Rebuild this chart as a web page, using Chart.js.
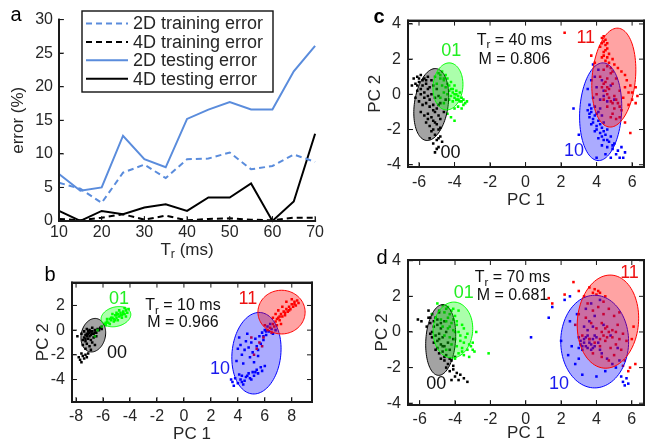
<!DOCTYPE html>
<html>
<head>
<meta charset="utf-8">
<script src="https://cdn.jsdelivr.net/npm/chart.js@4.4.1/dist/chart.umd.min.js"></script>
<style>
  body { margin: 0; background: #fff; width: 648px; height: 446px; overflow: hidden; position: relative; }
  canvas { position: absolute; }
  #frames { left: 0; top: 0; z-index: 5; pointer-events: none; }
  .frame { position: absolute; z-index: 6; pointer-events: none; box-sizing: border-box; border-color: #1a1a1a; border-style: solid; border-width: 0; }
</style>
</head>
<body>
<canvas id="pa" width="330" height="262" style="left:0;top:0"></canvas>
<canvas id="pb" width="330" height="184" style="left:0;top:262px"></canvas>
<canvas id="pc" width="318" height="220" style="left:330px;top:0"></canvas>
<canvas id="pd" width="318" height="226" style="left:330px;top:220px"></canvas>
<canvas id="frames" width="648" height="446"></canvas>
<script>
// ---------- Panel a data ----------
const trMs = [10, 15, 20, 25, 30, 35, 40, 45, 50, 55, 60, 65, 70];
const train2D = [5.7, 4.8, 2.7, 7.2, 8.4, 6.4, 9.2, 9.3, 10.2, 7.7, 8.2, 9.9, 8.8];
const train4D = [0.3, 0.1, 0.5, 1.0, 0.2, 0.8, 0.1, 0.3, 0.4, 0.2, 0.1, 0.5, 0.5];
const test2D = [7.0, 4.5, 5.0, 12.7, 9.2, 8.0, 15.2, 16.6, 17.7, 16.6, 16.6, 22.3, 26.1];
const test4D = [1.5, 0.0, 1.5, 1.0, 2.0, 2.5, 1.5, 3.5, 3.5, 5.6, 0.0, 2.9, 13.0];
const errTicks = [0, 5, 10, 15, 20, 25, 30];
const trTicks = [10, 20, 30, 40, 50, 60, 70];

// ---------- PCA groups (order: 00, 01, 10, 11) ----------
const groupNames = ["00", "01", "10", "11"];

// panel b, Tr = 10 ms
const b00 = [[-7.4,-0.6],[-7.3,-0.4],[-7.2,-0.5],[-7.1,-0.3],[-7.0,-0.2],[-6.9,-0.4],[-6.8,-0.1],[-6.7,-0.3],[-6.6,0.0],[-6.5,-0.2],[-6.4,0.1],[-6.3,0.0],[-6.2,0.2],[-6.1,0.1],[-7.5,-0.8],[-7.3,-0.9],[-7.1,-0.7],[-6.9,-0.8],[-6.7,-0.6],[-7.6,-0.3],[-7.4,-0.1],[-7.0,0.0],[-6.8,-1.0],[-7.2,-1.1],[-7.0,-1.3],[-7.5,-1.2],[-7.3,-1.5],[-6.6,-1.2],[-6.9,-1.6],[-7.6,-1.9],[-7.5,-2.1],[-7.3,-2.0],[-7.7,-2.4],[-7.4,-2.3],[-7.6,-2.6],[-7.2,-2.2],[-7.8,-2.2],[-7.1,-1.9],[-7.9,-0.5],[-6.5,-0.5],[-6.8,0.2],[-7.2,0.1],[-7.2,-0.3],[-7.0,-0.5],[-6.8,-0.3],[-6.6,-0.2],[-7.3,-0.7],[-6.9,-0.1],[-7.1,-0.1]];
const b01 = [[-6.1,0.3],[-5.9,0.5],[-5.8,0.4],[-5.7,0.7],[-5.6,0.6],[-5.5,0.9],[-5.4,0.8],[-5.3,1.0],[-5.2,0.9],[-5.1,1.2],[-5.0,1.0],[-4.9,1.3],[-4.8,1.1],[-4.7,1.4],[-4.6,1.2],[-4.5,1.5],[-4.4,1.3],[-4.3,1.6],[-4.2,1.4],[-4.1,1.7],[-5.5,0.5],[-5.2,0.7],[-4.9,0.8],[-4.6,1.0],[-5.0,1.4],[-4.4,1.8],[-5.7,0.9],[-5.3,1.3],[-4.8,1.6],[-4.3,1.1],[-6.6,-0.5],[-6.4,0.0],[-5.4,1.0],[-5.0,1.2],[-4.7,1.2],[-4.5,1.3],[-5.8,0.6],[-5.1,0.8]];
const b10 = [[4.0,-1.5],[4.2,-1.2],[4.3,-2.0],[4.5,-1.6],[4.6,-0.9],[4.8,-1.4],[4.9,-2.2],[5.0,-1.0],[5.1,-1.8],[5.3,-0.7],[5.4,-1.3],[5.5,-2.1],[5.6,-0.5],[5.7,-1.1],[5.8,-0.2],[5.9,-0.8],[6.0,0.0],[6.1,-0.4],[6.2,0.3],[6.3,-0.1],[6.4,0.5],[6.5,0.1],[6.6,-0.3],[3.9,-2.5],[4.4,-2.7],[5.2,-2.6],[4.1,-0.6],[4.7,-0.3],[6.8,0.0],[3.6,-4.2],[3.7,-4.5],[3.8,-3.9],[4.0,-4.3],[4.2,-4.0],[4.3,-3.7],[4.5,-4.1],[4.6,-3.8],[4.8,-3.5],[4.9,-3.9],[5.1,-3.4],[5.2,-3.7],[5.4,-3.2],[5.5,-3.5],[5.7,-3.0],[5.8,-3.3],[6.0,-2.9],[4.4,-4.4],[4.1,-3.6],[5.0,-4.0],[3.5,-4.0],[5.9,-0.5],[6.1,-0.1],[5.5,-1.6],[4.7,-3.7],[5.3,-3.4],[4.3,-4.2]];
const b11 = [[6.4,0.2],[6.6,0.5],[6.8,0.7],[6.9,0.4],[7.0,1.0],[7.1,0.8],[7.2,1.3],[7.3,1.1],[7.4,1.5],[7.5,1.2],[7.6,1.7],[7.7,1.5],[7.8,1.9],[7.9,1.7],[8.0,2.1],[8.1,1.9],[8.2,2.3],[8.3,2.0],[8.4,2.4],[8.5,2.2],[7.0,1.6],[6.8,1.3],[7.3,1.9],[6.6,1.0],[7.6,2.3],[8.0,2.5],[6.2,0.0],[6.5,-0.2],[5.9,-0.6],[5.6,-1.0],[5.4,-1.5],[5.8,-1.3],[5.2,-2.0],[5.0,-0.6],[6.0,0.4],[7.2,0.5],[7.8,1.6],[8.2,2.1],[7.5,1.4],[7.1,1.1],[6.9,0.9],[6.7,0.3]];
const bEllCx = [-6.72, -5.04, 5.38, 7.24];
const bEllCy = [-0.41, 1.09, -1.87, 1.46];
const bEllRx = [0.9, 1.13, 1.81, 1.75];
const bEllRy = [1.37, 0.78, 3.31, 1.77];
const bEllAng = [-10, 18, -5, 0];

// panel c, Tr = 40 ms
const c00 = [[-6.3,0.9],[-6.1,1.0],[-5.9,1.1],[-5.7,0.9],[-5.5,1.0],[-5.3,0.8],[-6.2,0.6],[-6.0,0.7],[-5.8,0.5],[-5.6,0.6],[-5.4,0.4],[-5.2,0.5],[-5.0,0.3],[-6.1,0.2],[-5.9,0.0],[-5.7,0.1],[-5.5,-0.1],[-5.3,0.0],[-5.1,-0.2],[-4.9,-0.1],[-6.0,-0.4],[-5.8,-0.6],[-5.6,-0.5],[-5.4,-0.7],[-5.2,-0.6],[-5.0,-0.8],[-4.8,-0.5],[-5.9,-1.0],[-5.7,-1.2],[-5.5,-1.1],[-5.3,-1.3],[-5.1,-1.0],[-4.9,-1.2],[-5.6,-1.6],[-5.4,-1.8],[-5.2,-1.5],[-5.0,-1.7],[-4.8,-1.4],[-5.3,-2.1],[-5.1,-2.3],[-4.9,-2.0],[-5.0,-2.6],[-4.8,-2.4],[-5.2,-2.8],[-4.7,-2.7],[-4.9,-3.0],[-5.4,-2.5],[-6.4,0.5],[-6.2,-0.2],[-4.6,-1.0],[-4.5,-0.3],[-5.1,-3.3],[-6.0,0.9],[-5.8,0.8],[-5.6,0.8],[-6.1,0.5],[-5.9,0.3],[-5.5,0.3],[-5.7,-0.2],[-5.4,-0.3],[-5.2,-0.9],[-4.9,-0.6],[-5.5,-1.4],[-5.1,-1.6],[-4.8,-1.9],[-5.2,-2.0],[-4.9,-2.5],[-5.0,-3.1]];
const c01 = [[-4.9,1.2],[-4.7,1.3],[-4.5,1.1],[-4.8,0.9],[-4.6,0.8],[-4.4,0.9],[-4.2,0.7],[-4.7,0.5],[-4.5,0.4],[-4.3,0.5],[-4.1,0.3],[-3.9,0.2],[-4.6,0.1],[-4.4,0.0],[-4.2,-0.1],[-4.0,0.0],[-3.8,-0.1],[-3.7,0.1],[-4.3,-0.3],[-4.1,-0.4],[-3.9,-0.3],[-3.7,-0.4],[-3.6,-0.2],[-3.5,-0.6],[-3.4,-0.5],[-3.8,-0.7],[-4.0,-0.8],[-4.6,-0.5],[-4.8,-0.2],[-5.0,0.6],[-5.1,1.0],[-4.0,0.5],[-3.6,-0.8],[-4.2,-1.3],[-4.0,-1.5],[-4.4,-1.1],[-3.3,-0.4],[-4.3,0.2],[-4.1,0.1],[-3.9,0.0],[-4.0,-0.2],[-3.8,-0.3],[-4.2,0.3],[-4.4,0.6],[-4.6,0.9],[-4.8,1.1],[-3.6,-0.4],[-3.5,-0.3]];
const c10 = [[3.8,1.7],[4.1,1.4],[3.9,1.0],[4.3,0.8],[4.0,0.4],[4.4,0.2],[3.8,-0.2],[4.2,-0.3],[4.6,-0.4],[3.6,-0.6],[3.9,-0.7],[4.2,-0.8],[3.5,-0.9],[3.7,-1.0],[4.0,-1.1],[4.3,-1.2],[3.6,-1.3],[3.8,-1.4],[4.1,-1.5],[4.4,-1.6],[3.7,-1.7],[4.0,-1.8],[4.3,-1.9],[4.6,-2.0],[3.9,-2.1],[4.2,-2.2],[4.5,-2.3],[4.8,-2.4],[4.1,-2.5],[4.4,-2.6],[4.7,-2.7],[5.0,-2.8],[4.3,-2.9],[4.6,-3.0],[4.9,-3.1],[5.2,-3.2],[4.5,-3.4],[4.0,-3.6],[5.4,-3.0],[5.6,-3.3],[5.3,-3.6],[2.7,-0.8],[3.0,-2.3],[3.5,0.3],[4.8,0.5],[5.0,-0.3],[3.7,-0.8],[3.9,-1.2],[4.1,-1.0],[3.8,-1.6],[4.2,-1.7],[4.0,-2.0],[4.4,-2.1],[3.6,-1.1],[4.3,-2.4],[4.6,-2.6],[4.9,-2.9],[5.1,-3.4],[4.8,-3.6],[5.5,-3.6],[4.4,-0.1],[3.7,0.8]];
const c11 = [[4.3,3.2],[4.4,3.0],[4.5,2.8],[4.2,2.7],[4.6,2.6],[4.4,2.4],[4.7,2.3],[4.3,2.1],[4.9,2.0],[4.5,1.9],[5.0,1.7],[4.6,1.6],[5.2,1.5],[4.4,1.4],[5.4,1.3],[4.8,1.2],[5.6,1.1],[4.2,1.0],[5.1,0.9],[5.7,0.8],[4.5,0.7],[4.9,0.6],[5.9,0.5],[4.3,0.4],[4.7,0.3],[5.3,0.2],[6.0,0.1],[4.6,0.0],[5.0,-0.1],[5.5,-0.2],[4.4,-0.3],[4.8,-0.4],[5.2,-0.5],[5.8,-0.6],[4.6,-0.7],[5.0,-0.8],[5.4,-0.9],[4.9,-1.1],[5.3,-1.3],[5.6,-1.6],[5.1,-1.4],[6.2,0.4],[6.3,-0.1],[5.9,-2.2],[3.9,1.8],[3.7,2.2],[2.2,3.5],[4.0,0.0],[4.4,3.3],[4.5,3.1],[4.3,2.9],[4.6,2.9],[4.5,2.5],[4.4,2.2],[4.6,2.1],[4.7,1.8],[4.8,1.5],[4.9,1.3],[4.6,0.9],[4.4,0.6],[4.6,0.4],[4.5,0.2],[4.7,-0.2],[4.9,-0.5],[5.1,-0.3],[5.3,-0.7],[4.8,-1.3],[5.6,0.4],[5.8,0.1],[6.0,-0.3],[6.2,-0.5]];
const cEllCx = [-5.31, -4.37, 4.23, 4.97];
const cEllCy = [-0.58, 0.45, -0.99, 0.95];
const cEllRx = [0.95, 0.84, 1.18, 1.22];
const cEllRy = [2.06, 1.34, 2.78, 2.82];
const cEllAng = [-8, -5, -3, -5];

// panel d, Tr = 70 ms
const d00 = [[-6.1,0.7],[-5.9,0.6],[-5.5,1.2],[-5.3,1.0],[-5.1,0.8],[-4.9,1.1],[-5.4,0.5],[-5.2,0.3],[-5.0,0.4],[-4.8,0.2],[-4.6,0.6],[-5.3,0.0],[-5.1,-0.2],[-4.9,-0.1],[-4.7,-0.3],[-4.5,0.0],[-5.2,-0.6],[-5.0,-0.5],[-4.8,-0.7],[-4.6,-0.8],[-4.4,-0.6],[-5.1,-1.0],[-4.9,-1.2],[-4.7,-1.1],[-4.5,-1.3],[-4.3,-1.0],[-4.8,-1.5],[-4.6,-1.6],[-4.4,-1.8],[-4.2,-1.6],[-4.5,-2.0],[-4.3,-2.2],[-4.1,-2.1],[-3.9,-2.3],[-4.0,-2.5],[-3.7,-2.4],[-3.8,-2.7],[-3.5,-2.6],[-3.3,-2.8],[-4.2,-2.7],[-5.5,0.8],[-5.6,0.3],[-4.0,-1.4],[-4.1,-0.4],[-5.4,0.8],[-5.2,0.6],[-5.0,0.7],[-5.3,-0.3],[-5.0,-0.9],[-4.7,-0.8],[-4.9,-0.4],[-4.6,-1.4],[-4.3,-1.5],[-4.1,-1.9],[-4.8,0.5],[-5.4,-0.1]];
const d01 = [[-5.0,1.6],[-4.7,1.5],[-4.4,1.4],[-4.1,1.3],[-4.9,1.2],[-4.6,1.1],[-4.3,1.0],[-4.0,0.9],[-3.8,1.2],[-5.1,0.8],[-4.8,0.7],[-4.5,0.6],[-4.2,0.5],[-3.9,0.6],[-3.6,0.4],[-4.7,0.3],[-4.4,0.2],[-4.1,0.1],[-3.8,0.0],[-3.5,0.2],[-4.6,-0.2],[-4.3,-0.3],[-4.0,-0.4],[-3.7,-0.5],[-3.4,-0.3],[-4.2,-0.7],[-3.9,-0.8],[-3.6,-0.9],[-3.3,-1.0],[-3.1,-0.8],[-3.8,-1.2],[-3.5,-1.3],[-3.2,-1.4],[-2.9,-1.1],[-4.0,-1.5],[-2.8,0.0],[-3.0,-0.6],[-2.1,-1.2],[-5.3,1.0],[-4.5,-1.0],[-3.3,-0.1],[-4.5,1.3],[-4.2,1.2],[-4.4,0.8],[-4.1,0.7],[-3.9,0.4],[-4.3,0.3],[-4.0,0.0],[-3.7,-0.2],[-3.5,-0.6],[-3.2,-0.7],[-3.0,-1.0],[-3.6,-1.1]];
const d10 = [[0.3,-0.3],[1.3,0.8],[1.5,1.4],[2.0,-0.5],[2.2,1.8],[2.5,0.6],[2.6,-0.8],[2.8,-1.8],[3.0,-0.3],[3.1,-0.7],[3.2,-1.0],[3.3,-0.4],[3.4,-0.8],[3.5,-0.2],[3.6,-0.6],[3.7,-1.0],[3.8,-0.4],[3.9,-0.8],[4.0,-0.3],[3.3,0.3],[3.6,0.6],[3.9,0.9],[3.4,1.3],[3.7,1.6],[4.2,1.8],[2.9,1.0],[4.3,-1.2],[4.6,-1.5],[4.9,-1.8],[5.1,-2.0],[5.3,-1.6],[4.5,-2.2],[4.0,-2.5],[3.2,-2.4],[5.4,-2.5],[5.5,-2.8],[5.7,-2.6],[5.8,-2.9],[5.6,-3.0],[4.8,-0.2],[4.4,0.4],[5.2,-0.9],[2.4,-1.3],[3.0,-1.5],[2.5,2.0],[3.1,-0.5],[3.3,-0.6],[3.5,-0.9],[3.7,-0.7],[3.4,-0.3],[3.6,-0.4],[3.8,-0.9],[3.2,-0.8],[4.1,-0.6],[3.9,-0.2],[3.0,-0.9],[4.2,-1.0],[3.5,0.1],[3.8,0.3]];
const d11 = [[1.3,1.9],[1.5,1.6],[2.2,2.1],[2.7,2.8],[3.0,2.3],[3.3,2.0],[3.6,2.5],[3.9,2.4],[4.2,2.2],[4.5,2.0],[3.5,1.6],[3.8,1.2],[4.1,1.4],[4.4,1.0],[4.7,1.3],[5.0,0.9],[3.4,0.8],[3.7,0.5],[4.0,0.2],[4.3,0.0],[4.6,0.3],[4.9,0.1],[5.2,0.4],[5.5,-0.1],[3.2,-0.2],[3.6,-0.4],[3.9,-0.6],[4.2,-0.8],[4.5,-0.5],[4.8,-0.9],[5.1,-0.7],[5.4,-1.0],[5.7,-0.5],[6.0,-0.4],[3.8,-1.2],[4.3,-1.4],[4.7,-1.6],[5.0,-1.3],[5.6,-1.6],[5.9,-2.0],[6.2,-1.8],[5.8,-2.2],[3.0,1.0],[2.8,0.4],[4.4,1.7],[5.3,1.1],[6.1,0.3],[5.5,-1.9],[4.3,0.5],[4.5,0.2],[4.7,0.0],[4.4,-0.2],[4.9,-0.3],[5.1,0.0],[4.1,2.3],[4.0,2.1],[3.8,2.2],[4.6,-0.3],[5.3,-0.4],[4.2,-0.4]];
const dEllCx = [-4.81, -4.12, 3.9, 4.65];
const dEllCy = [-0.45, 0.11, -0.54, 0.58];
const dEllRx = [0.84, 1.12, 1.92, 1.73];
const dEllRy = [1.99, 1.57, 2.6, 2.62];
const dEllAng = [-4, -4, 0, -5];

const pcTicks4 = [-4, -2, 0, 2, 4];
const pcTicksB = [-4, -2, 0, 2];
const pc1TicksB = [-8, -6, -4, -2, 0, 2, 4, 6, 8];
const pc1Ticks = [-6, -4, -2, 0, 2, 4, 6];

// ---------- Helpers ----------
const INK = "#262626";
const AXIS = "#1a1a1a";
const FAM = '"Liberation Sans", Arial, Helvetica, sans-serif';
const groupColors = ["#000000", "#00ff00", "#0000ff", "#ff0000"];
const groupFills = ["rgba(0,0,0,0.36)", "rgba(0,255,0,0.33)", "rgba(0,0,255,0.33)", "rgba(255,0,0,0.36)"];
const groupText = ["#111111", "#22ee22", "#1a1aee", "#ee1111"];
const font = (size, weight) => `${weight || "normal"} ${size}px ${FAM}`;

// draw text where parts marked true are subscripts
function richText(ctx, segs, x, y, size, color, align) {
  ctx.save();
  ctx.fillStyle = color;
  ctx.textBaseline = "middle";
  ctx.textAlign = "left";
  let w = 0;
  segs.forEach(([t, sub]) => { ctx.font = font(sub ? size * 0.72 : size); w += ctx.measureText(t).width; });
  let cx = align === "center" ? x - w / 2 : x;
  segs.forEach(([t, sub]) => {
    ctx.font = font(sub ? size * 0.72 : size);
    ctx.fillText(t, cx, sub ? y + size * 0.3 : y);
    cx += ctx.measureText(t).width;
  });
  ctx.restore();
}

function vText(ctx, text, x, y, size) {
  ctx.save();
  ctx.translate(x, y);
  ctx.rotate(-Math.PI / 2);
  ctx.font = font(size);
  ctx.fillStyle = INK;
  ctx.textAlign = "center";
  ctx.textBaseline = "middle";
  ctx.fillText(text, 0, 0);
  ctx.restore();
}

function plainText(ctx, text, x, y, size, color, weight) {
  ctx.save();
  ctx.font = font(size, weight);
  ctx.fillStyle = color;
  ctx.textAlign = "center";
  ctx.textBaseline = "middle";
  ctx.fillText(text, x, y);
  ctx.restore();
}

const setTicks = (vals) => (s) => { s.ticks = vals.map((v) => ({ value: v })); };

// native axis styling: solid border, short ticks pointing into the plot
const axisGrid = { display: true, drawOnChartArea: false, drawTicks: true, tickLength: -4, color: AXIS, tickColor: AXIS, tickWidth: 1 };
const axisBorder = { display: true, color: AXIS, width: 2 };

// ---------- Panel a ----------
const blue = "#5a8cdc";
const lineSets = [
  { label: "2D training error", ys: train2D, color: blue, dash: [6, 4] },
  { label: "4D training error", ys: train4D, color: "#000000", dash: [6, 4] },
  { label: "2D testing error", ys: test2D, color: blue, dash: [] },
  { label: "4D testing error", ys: test4D, color: "#000000", dash: [] },
];

const panelA = {
  id: "panelA",
  afterDraw(chart) {
    const ctx = chart.ctx;
    const a = chart.chartArea;
    ctx.save();
    ctx.fillStyle = "#fff";
    ctx.fillRect(82, 11, 191, 81);
    ctx.strokeStyle = "#111";
    ctx.lineWidth = 1.4;
    ctx.setLineDash([]);
    ctx.strokeRect(82, 11, 191, 81);
    chart.data.datasets.forEach((ds, i) => {
      const yy = 23.5 + i * 18.4;
      ctx.strokeStyle = ds.borderColor;
      ctx.lineWidth = ds.borderWidth;
      ctx.setLineDash(ds.borderDash);
      ctx.beginPath(); ctx.moveTo(86, yy); ctx.lineTo(128, yy); ctx.stroke();
      ctx.setLineDash([]);
      ctx.font = font(18);
      ctx.fillStyle = INK;
      ctx.textBaseline = "middle";
      ctx.textAlign = "left";
      ctx.fillText(ds.label, 133, yy + 1);
    });
    ctx.restore();
    vText(ctx, "error (%)", 18, (a.top + a.bottom) / 2, 17);
    richText(ctx, [["T", false], ["r", true], [" (ms)", false]], (a.left + a.right) / 2, 250, 17, INK, "center");
    plainText(ctx, "a", 16, 15, 20, "#000");
  },
};

const chartA = new Chart(document.getElementById("pa"), {
  type: "line",
  data: {
    datasets: lineSets.map((s) => ({
      label: s.label,
      data: trMs.map((t, i) => ({ x: t, y: s.ys[i] })),
      borderColor: s.color,
      borderDash: s.dash,
      borderWidth: 2,
      pointRadius: 0,
      fill: false,
      tension: 0,
      clip: false,
    })),
  },
  options: {
    responsive: false,
    animation: false,
    events: [],
    layout: { padding: { top: 15, right: 10, left: 0, bottom: 0 } },
    plugins: { legend: { display: false }, tooltip: { enabled: false } },
    scales: {
      x: {
        type: "linear", min: 10, max: 70,
        afterBuildTicks: setTicks(trTicks),
        afterFit: (s) => { s.height = 41; },
        grid: axisGrid, border: axisBorder,
        ticks: { color: INK, font: { family: FAM, size: 16 }, padding: 6 },
      },
      y: {
        min: 0, max: 30,
        afterBuildTicks: setTicks(errTicks),
        afterFit: (s) => { s.width = 59; },
        grid: axisGrid, border: axisBorder,
        ticks: { color: INK, font: { family: FAM, size: 16 }, padding: 10 },
      },
    },
  },
  plugins: [panelA],
});

// ---------- PCA panels ----------
function pcaPanel(cfg) {
  const overlay = {
    id: "overlay_" + cfg.el,
    afterDatasetsDraw(chart) {
      const ctx = chart.ctx;
      const a = chart.chartArea;
      const x = chart.scales.x, y = chart.scales.y;
      ctx.save();
      ctx.beginPath();
      ctx.rect(a.left, a.top, a.right - a.left, a.bottom - a.top);
      ctx.clip();
      cfg.ell.cx.forEach((cx, g) => {
        const cy = cfg.ell.cy[g], rx = cfg.ell.rx[g], ry = cfg.ell.ry[g];
        const th = (cfg.ell.ang[g] * Math.PI) / 180;
        ctx.beginPath();
        for (let k = 0; k <= 96; k++) {
          const t = (k / 96) * 2 * Math.PI;
          const ex = rx * Math.cos(t), ey = ry * Math.sin(t);
          const px = x.getPixelForValue(cx + ex * Math.cos(th) - ey * Math.sin(th));
          const py = y.getPixelForValue(cy + ex * Math.sin(th) + ey * Math.cos(th));
          if (k === 0) ctx.moveTo(px, py); else ctx.lineTo(px, py);
        }
        ctx.closePath();
        ctx.fillStyle = groupFills[g];
        ctx.fill();
        ctx.strokeStyle = groupColors[g];
        ctx.lineWidth = 1;
        ctx.stroke();
      });
      ctx.restore();
    },
    afterDraw(chart) {
      const ctx = chart.ctx;
      const a = chart.chartArea;
      const x = chart.scales.x, y = chart.scales.y;
      cfg.labelPos.forEach(([lx, ly], g) => {
        plainText(ctx, groupNames[g], x.getPixelForValue(lx), y.getPixelForValue(ly), 18, groupText[g]);
      });
      const [ax, ay1, ay2] = cfg.notePos;
      richText(ctx, [["T", false], ["r", true], [" = " + cfg.tr + " ms", false]], x.getPixelForValue(ax), y.getPixelForValue(ay1), 16, "#111", "center");
      plainText(ctx, "M = " + cfg.m, x.getPixelForValue(ax), y.getPixelForValue(ay2), 16, "#111");
      plainText(ctx, "PC 1", (a.left + a.right) / 2, cfg.xTitleY, 17, INK);
      vText(ctx, "PC 2", cfg.yTitleX, (a.top + a.bottom) / 2, 17);
      plainText(ctx, cfg.letter, cfg.letterPos[0], cfg.letterPos[1], 20, "#000", cfg.letterWeight);
    },
  };

  return new Chart(document.getElementById(cfg.el), {
    type: "scatter",
    data: {
      datasets: cfg.groups.map((pts, g) => ({
        label: groupNames[g],
        data: pts.map(([px, py]) => ({ x: px, y: py })),
        backgroundColor: groupColors[g],
        pointStyle: "rect",
        pointRadius: 1.8,
        borderWidth: 0,
        order: 4 - g,
      })),
    },
    options: {
      responsive: false,
      animation: false,
      events: [],
      layout: { padding: { top: cfg.top, right: cfg.right, left: 0, bottom: 0 } },
      plugins: { legend: { display: false }, tooltip: { enabled: false } },
      scales: {
        x: {
          type: "linear", min: cfg.xr[0], max: cfg.xr[1],
          afterBuildTicks: setTicks(cfg.xt),
          afterFit: (s) => { s.height = cfg.xh; },
          grid: axisGrid, border: axisBorder,
          ticks: { color: INK, font: { family: FAM, size: 16 }, padding: cfg.xpad + 4 },
        },
        y: {
          min: cfg.yr[0], max: cfg.yr[1],
          afterBuildTicks: setTicks(cfg.yt),
          afterFit: (s) => { s.width = cfg.yw; },
          grid: axisGrid, border: axisBorder,
          ticks: { color: INK, font: { family: FAM, size: 16 }, padding: 11 },
        },
      },
    },
    plugins: [overlay],
  });
}

const chartB = pcaPanel({
  el: "pb", groups: [b00, b01, b10, b11],
  ell: { cx: bEllCx, cy: bEllCy, rx: bEllRx, ry: bEllRy, ang: bEllAng },
  xr: [-8.3, 9.5], yr: [-5.82, 3.85], xt: pc1TicksB, yt: pcTicksB,
  top: 10, right: 18, xh: 44, yw: 72, xpad: 5,
  labelPos: [[-4.96, -1.87], [-4.81, 2.5], [2.67, -3.13], [4.74, 2.5]],
  notePos: [-0.07, 1.98, 0.64], tr: 10, m: "0.966",
  xTitleY: 172, yTitleX: 43, letter: "b", letterPos: [50, 13], letterWeight: "normal",
});

const chartC = pcaPanel({
  el: "pc", groups: [c00, c01, c10, c11],
  ell: { cx: cEllCx, cy: cEllCy, rx: cEllRx, ry: cEllRy, ang: cEllAng },
  xr: [-6.62, 6.67], yr: [-4.13, 4.19], xt: pc1Ticks, yt: pcTicks4,
  top: 18, right: 3, xh: 53, yw: 78, xpad: 6,
  labelPos: [[-4.22, -3.31], [-4.18, 2.47], [2.73, -3.24], [3.39, 3.2]],
  notePos: [-0.63, 3.08, 1.96], tr: 40, m: "0.806",
  xTitleY: 200, yTitleX: 45, letter: "c", letterPos: [49, 17], letterWeight: "bold",
});

const chartD = pcaPanel({
  el: "pd", groups: [d00, d01, d10, d11],
  ell: { cx: dEllCx, cy: dEllCy, rx: dEllRx, ry: dEllRy, ang: dEllAng },
  xr: [-6.66, 6.69], yr: [-4.1, 4.04], xt: pc1Ticks, yt: pcTicks4,
  top: 40, right: 3, xh: 41, yw: 78, xpad: 5,
  labelPos: [[-5.06, -2.92], [-3.5, 2.19], [1.88, -2.92], [5.87, 3.31]],
  notePos: [-0.75, 3.05, 2.04], tr: 70, m: "0.681",
  xTitleY: 213, yTitleX: 52, letter: "d", letterPos: [52, 38], letterWeight: "normal",
});

// ---------- Frames + inward ticks, on a top layer ----------
const framed = [
  { chart: chartA, el: "pa", full: false, xt: trTicks, yt: errTicks },
  { chart: chartB, el: "pb", full: true, xt: pc1TicksB, yt: pcTicksB },
  { chart: chartC, el: "pc", full: true, xt: pc1Ticks, yt: pcTicks4 },
  { chart: chartD, el: "pd", full: true, xt: pc1Ticks, yt: pcTicks4 },
];

const fctx = document.getElementById("frames").getContext("2d");
fctx.fillStyle = AXIS;
framed.forEach(({ chart, el, full, xt, yt }) => {
  const cv = document.getElementById(el);
  const ox = cv.offsetLeft, oy = cv.offsetTop;
  const a = chart.chartArea;
  const L = ox + a.left, R = ox + a.right, T = oy + a.top, B = oy + a.bottom;
  const sx = chart.scales.x, sy = chart.scales.y;

  // border lines as plain boxes
  const box = document.createElement("div");
  box.className = "frame";
  box.style.left = (L - 1) + "px";
  box.style.top = (T - 1) + "px";
  box.style.width = (R - L + 2) + "px";
  box.style.height = (B - T + 2) + "px";
  box.style.borderLeftWidth = "2px";
  box.style.borderBottomWidth = "2px";
  if (full) { box.style.borderTopWidth = "2px"; box.style.borderRightWidth = "2px"; }
  document.body.appendChild(box);

  // same lines on the overlay canvas, plus inward tick marks
  fctx.fillRect(L - 1, T - 1, 2, B - T + 2);
  fctx.fillRect(L - 1, B - 1, R - L + 2, 2);
  if (full) {
    fctx.fillRect(L - 1, T - 1, R - L + 2, 2);
    fctx.fillRect(R - 1, T - 1, 2, B - T + 2);
  }
  xt.forEach((v) => {
    const px = ox + sx.getPixelForValue(v);
    fctx.fillRect(px - 0.5, B - 5, 1, 4);
    if (full) fctx.fillRect(px - 0.5, T + 1, 1, 4);
  });
  yt.forEach((v) => {
    const py = oy + sy.getPixelForValue(v);
    fctx.fillRect(L + 1, py - 0.5, 4, 1);
    if (full) fctx.fillRect(R - 5, py - 0.5, 4, 1);
  });
});
</script>
</body>
</html>
